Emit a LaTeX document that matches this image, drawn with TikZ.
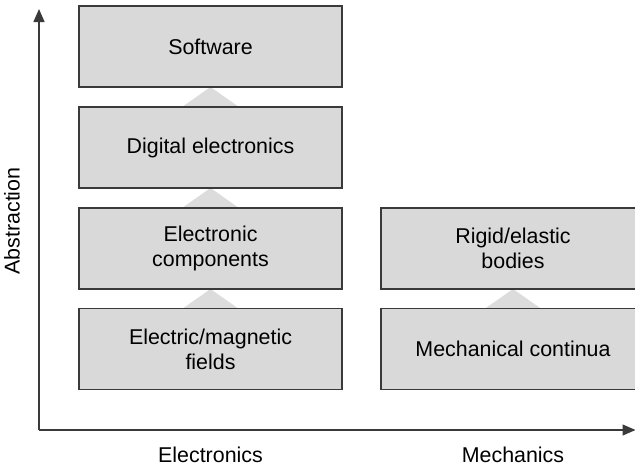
\documentclass[tikz,border=0pt]{standalone}
\usepackage{fontspec}
\setmainfont{Liberation Sans}
\usetikzlibrary{arrows.meta}
\definecolor{boxfill}{HTML}{D9D9D9}
\definecolor{trifill}{HTML}{DCDCDC}
\definecolor{edge}{HTML}{3A3A3A}
\begin{document}
\begin{tikzpicture}[x=1pt,y=-1pt,
  layer/.style={draw=edge, fill=boxfill, line width=1.3pt, inner sep=0pt,
    align=center, font=\fontsize{21.4}{25}\selectfont},
  lbox/.style={layer, minimum width=263pt, minimum height=81pt},
  rbox/.style={layer, minimum width=264pt, minimum height=81pt},
  axis/.style={draw=edge, line width=1.3pt, -{Triangle[length=13pt,width=11pt]}},
  lbl/.style={font=\fontsize{21.4}{25}\selectfont}]
\useasboundingbox (0,0) rectangle (635,467);
% triangles between layers
\coordinate (t1) at (210.5,87);
\coordinate (t2) at (210.5,188);
\coordinate (t3) at (210.5,289);
\coordinate (t4) at (513,289);
\fill[trifill] (t1) -- ++(-28.5,20) -- ++(57,0) -- cycle;
\fill[trifill] (t2) -- ++(-28.5,20) -- ++(57,0) -- cycle;
\fill[trifill] (t3) -- ++(-28.5,20) -- ++(57,0) -- cycle;
\fill[trifill] (t4) -- ++(-28.5,20) -- ++(57,0) -- cycle;
% boxes
\node[lbox] (sw) at (210.5,46.5) {Software};
\node[lbox] (de) at (210.5,147.5) {Digital electronics};
\node[lbox] (ec) at (210.5,248.5) {Electronic\\components};
\node[lbox] (ef) at (210.5,349) {Electric/magnetic\\fields};
\node[rbox] (rb) at (513,248.5) {Rigid/elastic\\bodies};
\node[rbox] (mc) at (513,349) {Mechanical continua};
% axes
\coordinate (o) at (39,430);
\coordinate (ytip) at (39,9);
\coordinate (xtip) at (635.5,430);
\draw[axis] (o) -- (ytip);
\draw[axis] (o) -- (xtip);
\node[lbl, rotate=90] (ab) at (12,221) {Abstraction};
\node[lbl] (el) at (210.5,455) {Electronics};
\node[lbl] (me) at (513,455) {Mechanics};
\end{tikzpicture}
\end{document}
